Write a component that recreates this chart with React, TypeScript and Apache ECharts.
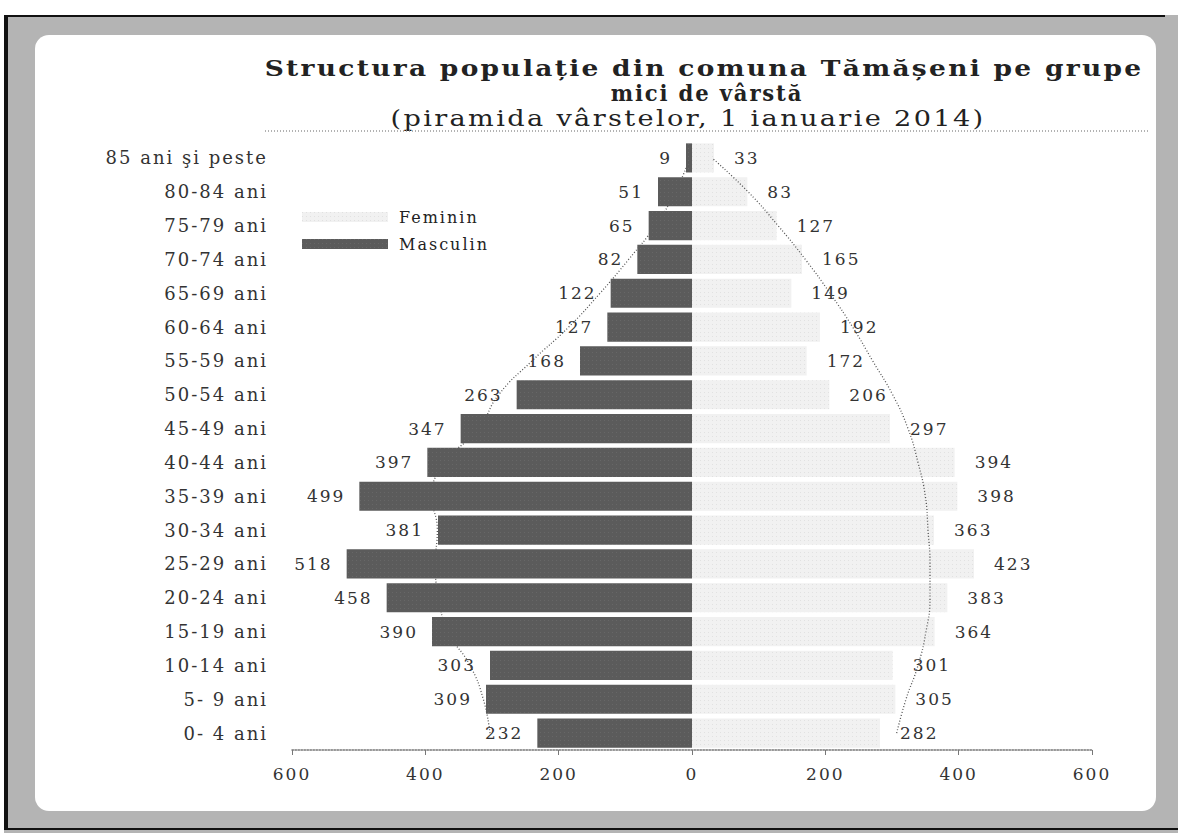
import React, { useEffect, useRef } from "react";
import * as echarts from "echarts";

const categories = [
  "0- 4 ani", "5- 9 ani", "10-14 ani", "15-19 ani", "20-24 ani", "25-29 ani",
  "30-34 ani", "35-39 ani", "40-44 ani", "45-49 ani", "50-54 ani", "55-59 ani",
  "60-64 ani", "65-69 ani", "70-74 ani", "75-79 ani", "80-84 ani", "85 ani şi peste",
];
const masculin = [232, 309, 303, 390, 458, 518, 381, 499, 397, 347, 263, 168, 127, 122, 82, 65, 51, 9];
const feminin = [282, 305, 301, 364, 383, 423, 363, 398, 394, 297, 206, 172, 192, 149, 165, 127, 83, 33];
// hand-drawn dotted outline curves in the picture (values read per age group)
const outlineMasculin = [303, 313, 333, 366, 380, 385, 382, 390, 370, 320, 290, 240, 185, 138, 95, 55, 25, 3];
const outlineFeminin = [307, 321, 339, 351, 357, 357, 354, 350, 339, 324, 301, 271, 241, 207, 170, 129, 84, 30];

const titleLines = [
  "Structura populație din comuna Tămășeni pe grupe",
  "mici de vârstă",
];
const subtitle = "(piramida vârstelor, 1 ianuarie 2014)";
const legendNames = ["Feminin", "Masculin"];

const FONT = "DejaVu Serif";

export default function App() {
  const ref = useRef<HTMLDivElement>(null);
  useEffect(() => {
    if (!ref.current) return;
    const chart = echarts.init(ref.current, null, { renderer: "svg" });
    chart.setOption({
      animation: false,
      backgroundColor: "#ffffff",
      aria: { enabled: true, decal: { show: true } },
      textStyle: { fontFamily: FONT },
      graphic: [
        { type: "rect", z: -10, silent: true, shape: { x: 4, y: 15, width: 1174, height: 818 }, style: { fill: "#b4b4b4" } },
        { type: "rect", z: -9, silent: true, shape: { x: 35, y: 35, width: 1121, height: 776, r: 14 }, style: { fill: "#ffffff" } },
        { type: "line", z: -8, silent: true, shape: { x1: 6, y1: 15, x2: 6, y2: 830 }, style: { stroke: "#111", lineWidth: 4 } },
        { type: "line", z: -8, silent: true, shape: { x1: 6, y1: 16, x2: 1165, y2: 16 }, style: { stroke: "#111", lineWidth: 2 } },
        { type: "line", z: -8, silent: true, shape: { x1: 6, y1: 829, x2: 1178, y2: 829 }, style: { stroke: "#111", lineWidth: 2 } },
        {
          type: "text", z: 10, silent: true, x: 704, y: 68, scaleX: 1.15,
          style: { text: titleLines[0], font: `bold 23px "${FONT}"`, fill: "#222", align: "center", verticalAlign: "middle" },
        },
        {
          type: "text", z: 10, silent: true, x: 707, y: 93, scaleX: 0.92,
          style: { text: titleLines[1], font: `bold 23px "${FONT}"`, fill: "#222", align: "center", verticalAlign: "middle" },
        },
        {
          type: "text", z: 10, silent: true, x: 688, y: 118, scaleX: 1.18,
          style: { text: subtitle, font: `23px "${FONT}"`, fill: "#222", align: "center", verticalAlign: "middle" },
        },
        {
          type: "line", z: 10, silent: true, shape: { x1: 265, y1: 131, x2: 1150, y2: 131 },
          style: { stroke: "#999", lineWidth: 1.5, lineDash: [1, 2] },
        },
      ],
      legend: {
        orient: "vertical",
        left: 297,
        top: 204,
        itemWidth: 86,
        itemHeight: 10,
        itemGap: 11,
        icon: "rect",
        data: legendNames,
        textStyle: { fontFamily: FONT, fontSize: 16, color: "#222", padding: [0, 0, 0, 6] },
      },
      grid: { left: 292, right: 86, top: 141, bottom: 83, containLabel: false },
      xAxis: {
        type: "value",
        min: -600,
        max: 600,
        interval: 200,
        axisLine: { show: true, lineStyle: { color: "#777", type: "dotted", width: 1.5 } },
        axisTick: { show: true, length: 5, lineStyle: { color: "#777" } },
        splitLine: { show: false },
        axisLabel: {
          margin: 15,
          fontFamily: FONT,
          fontSize: 17,
          color: "#333",
          formatter: (v: number) => String(Math.abs(v)),
        },
      },
      yAxis: {
        type: "category",
        data: categories,
        axisLine: { show: false },
        axisTick: { show: false },
        axisLabel: { margin: 24, fontFamily: FONT, fontSize: 18, color: "#333" },
      },
      series: [
        {
          name: "Feminin",
          type: "bar",
          stack: "total",
          z: 1,
          data: feminin,
          barCategoryGap: "14%",
          itemStyle: {
            color: "#f1f1f1",
            decal: { symbol: "rect", symbolSize: 0.6, color: "rgba(0,0,0,0.22)", dashArrayX: [1, 3], dashArrayY: [1, 3], rotation: 0 },
          },
          label: {
            show: true, position: "right", distance: 20,
            fontFamily: FONT, fontSize: 17, color: "#333",
          },
        },
        {
          name: "Masculin",
          type: "bar",
          stack: "total",
          z: 3,
          data: masculin.map((v) => -v),
          itemStyle: {
            color: "#5b5b5b",
            decal: { symbol: "rect", symbolSize: 0.6, color: "rgba(255,255,255,0.25)", dashArrayX: [1, 3], dashArrayY: [1, 3], rotation: 0 },
          },
          label: {
            show: true, position: "left", distance: 14,
            fontFamily: FONT, fontSize: 17, color: "#333",
            formatter: (p: any) => String(Math.abs(p.value)),
          },
        },
        {
          name: "outlineM",
          type: "line",
          z: 2,
          smooth: true,
          symbol: "none",
          silent: true,
          data: outlineMasculin.map((v) => -v),
          lineStyle: { color: "#555", width: 1.3, type: [1, 2] },
        },
        {
          name: "outlineF",
          type: "line",
          z: 2,
          smooth: true,
          symbol: "none",
          silent: true,
          data: outlineFeminin,
          lineStyle: { color: "#555", width: 1.3, type: [1, 2] },
        },
      ],
    });
    return () => chart.dispose();
  }, []);
  return (
    <div
      ref={ref}
      style={{ position: "fixed", left: 0, top: 0, width: 1178, height: 833, letterSpacing: "2px" }}
    />
  );
}
